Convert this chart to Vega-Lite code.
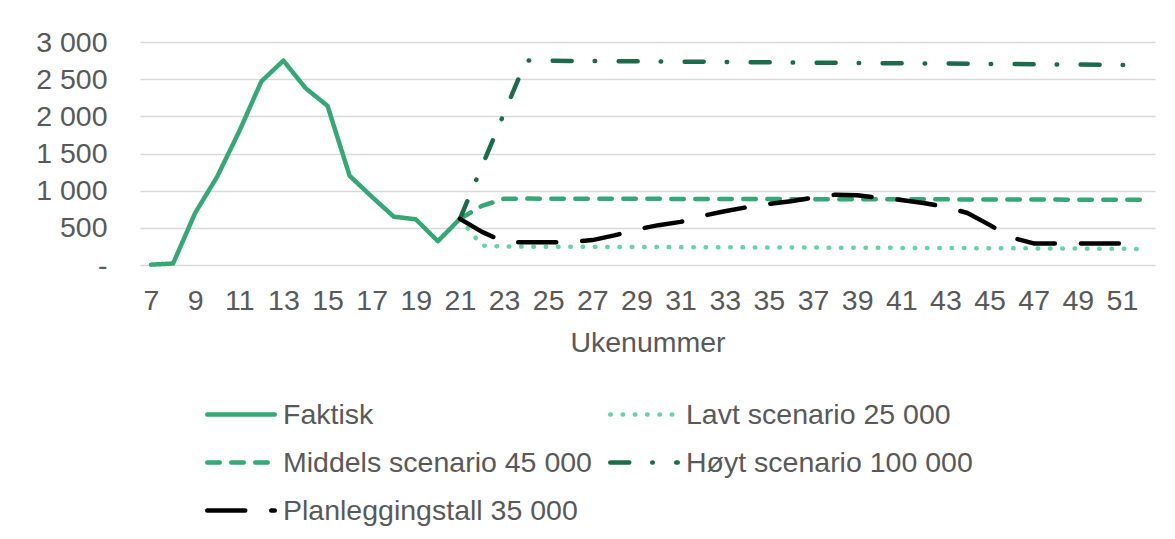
{
  "$schema": "https://vega.github.io/schema/vega-lite/v6.json",
  "autosize": {"type": "none"},
  "width": 1015,
  "height": 223,
  "padding": {"left": 140, "top": 42, "right": 20, "bottom": 274},
  "background": "white",
  "config": {
    "view": {"stroke": null},
    "font": "Liberation Sans",
    "axis": {"labelFont": "Liberation Sans", "titleFont": "Liberation Sans", "labelColor": "#595959", "titleColor": "#595959", "labelFontSize": 28.5, "titleFontSize": 28.5, "titleFontWeight": "normal"},
    "legend": {"labelFont": "Liberation Sans", "labelColor": "#595959", "labelFontSize": 28.5}
  },
  "data": {
    "values": [
      {"uke": 7, "serie": "Faktisk", "verdi": 5},
      {"uke": 8, "serie": "Faktisk", "verdi": 20},
      {"uke": 9, "serie": "Faktisk", "verdi": 700},
      {"uke": 10, "serie": "Faktisk", "verdi": 1190},
      {"uke": 11, "serie": "Faktisk", "verdi": 1800},
      {"uke": 12, "serie": "Faktisk", "verdi": 2470},
      {"uke": 13, "serie": "Faktisk", "verdi": 2750},
      {"uke": 14, "serie": "Faktisk", "verdi": 2380},
      {"uke": 15, "serie": "Faktisk", "verdi": 2140},
      {"uke": 16, "serie": "Faktisk", "verdi": 1200},
      {"uke": 17, "serie": "Faktisk", "verdi": 920},
      {"uke": 18, "serie": "Faktisk", "verdi": 650},
      {"uke": 19, "serie": "Faktisk", "verdi": 615},
      {"uke": 20, "serie": "Faktisk", "verdi": 320},
      {"uke": 21, "serie": "Faktisk", "verdi": 622},

      {"uke": 21, "serie": "Lavt scenario 25 000", "verdi": 622},
      {"uke": 22, "serie": "Lavt scenario 25 000", "verdi": 262},
      {"uke": 23, "serie": "Lavt scenario 25 000", "verdi": 248},
      {"uke": 24, "serie": "Lavt scenario 25 000", "verdi": 247},
      {"uke": 25, "serie": "Lavt scenario 25 000", "verdi": 246},
      {"uke": 26, "serie": "Lavt scenario 25 000", "verdi": 245},
      {"uke": 27, "serie": "Lavt scenario 25 000", "verdi": 244},
      {"uke": 28, "serie": "Lavt scenario 25 000", "verdi": 243},
      {"uke": 29, "serie": "Lavt scenario 25 000", "verdi": 242},
      {"uke": 30, "serie": "Lavt scenario 25 000", "verdi": 241},
      {"uke": 31, "serie": "Lavt scenario 25 000", "verdi": 240},
      {"uke": 32, "serie": "Lavt scenario 25 000", "verdi": 239},
      {"uke": 33, "serie": "Lavt scenario 25 000", "verdi": 238},
      {"uke": 34, "serie": "Lavt scenario 25 000", "verdi": 237},
      {"uke": 35, "serie": "Lavt scenario 25 000", "verdi": 236},
      {"uke": 36, "serie": "Lavt scenario 25 000", "verdi": 235},
      {"uke": 37, "serie": "Lavt scenario 25 000", "verdi": 234},
      {"uke": 38, "serie": "Lavt scenario 25 000", "verdi": 233},
      {"uke": 39, "serie": "Lavt scenario 25 000", "verdi": 232},
      {"uke": 40, "serie": "Lavt scenario 25 000", "verdi": 231},
      {"uke": 41, "serie": "Lavt scenario 25 000", "verdi": 230},
      {"uke": 42, "serie": "Lavt scenario 25 000", "verdi": 229},
      {"uke": 43, "serie": "Lavt scenario 25 000", "verdi": 228},
      {"uke": 44, "serie": "Lavt scenario 25 000", "verdi": 227},
      {"uke": 45, "serie": "Lavt scenario 25 000", "verdi": 226},
      {"uke": 46, "serie": "Lavt scenario 25 000", "verdi": 225},
      {"uke": 47, "serie": "Lavt scenario 25 000", "verdi": 224},
      {"uke": 48, "serie": "Lavt scenario 25 000", "verdi": 222},
      {"uke": 49, "serie": "Lavt scenario 25 000", "verdi": 221},
      {"uke": 50, "serie": "Lavt scenario 25 000", "verdi": 219},
      {"uke": 51, "serie": "Lavt scenario 25 000", "verdi": 218},
      {"uke": 52, "serie": "Lavt scenario 25 000", "verdi": 216},

      {"uke": 21, "serie": "Middels scenario 45 000", "verdi": 622},
      {"uke": 22, "serie": "Middels scenario 45 000", "verdi": 795},
      {"uke": 23, "serie": "Middels scenario 45 000", "verdi": 892},
      {"uke": 24, "serie": "Middels scenario 45 000", "verdi": 893},
      {"uke": 25, "serie": "Middels scenario 45 000", "verdi": 892},
      {"uke": 26, "serie": "Middels scenario 45 000", "verdi": 892},
      {"uke": 27, "serie": "Middels scenario 45 000", "verdi": 891},
      {"uke": 28, "serie": "Middels scenario 45 000", "verdi": 891},
      {"uke": 29, "serie": "Middels scenario 45 000", "verdi": 890},
      {"uke": 30, "serie": "Middels scenario 45 000", "verdi": 890},
      {"uke": 31, "serie": "Middels scenario 45 000", "verdi": 889},
      {"uke": 32, "serie": "Middels scenario 45 000", "verdi": 889},
      {"uke": 33, "serie": "Middels scenario 45 000", "verdi": 888},
      {"uke": 34, "serie": "Middels scenario 45 000", "verdi": 887},
      {"uke": 35, "serie": "Middels scenario 45 000", "verdi": 887},
      {"uke": 36, "serie": "Middels scenario 45 000", "verdi": 886},
      {"uke": 37, "serie": "Middels scenario 45 000", "verdi": 886},
      {"uke": 38, "serie": "Middels scenario 45 000", "verdi": 885},
      {"uke": 39, "serie": "Middels scenario 45 000", "verdi": 885},
      {"uke": 40, "serie": "Middels scenario 45 000", "verdi": 884},
      {"uke": 41, "serie": "Middels scenario 45 000", "verdi": 884},
      {"uke": 42, "serie": "Middels scenario 45 000", "verdi": 883},
      {"uke": 43, "serie": "Middels scenario 45 000", "verdi": 883},
      {"uke": 44, "serie": "Middels scenario 45 000", "verdi": 882},
      {"uke": 45, "serie": "Middels scenario 45 000", "verdi": 882},
      {"uke": 46, "serie": "Middels scenario 45 000", "verdi": 881},
      {"uke": 47, "serie": "Middels scenario 45 000", "verdi": 881},
      {"uke": 48, "serie": "Middels scenario 45 000", "verdi": 880},
      {"uke": 49, "serie": "Middels scenario 45 000", "verdi": 879},
      {"uke": 50, "serie": "Middels scenario 45 000", "verdi": 879},
      {"uke": 51, "serie": "Middels scenario 45 000", "verdi": 878},
      {"uke": 52, "serie": "Middels scenario 45 000", "verdi": 878},

      {"uke": 21, "serie": "Høyt scenario 100 000", "verdi": 622},
      {"uke": 22, "serie": "Høyt scenario 100 000", "verdi": 1330},
      {"uke": 23, "serie": "Høyt scenario 100 000", "verdi": 2040},
      {"uke": 24, "serie": "Høyt scenario 100 000", "verdi": 2750},
      {"uke": 25, "serie": "Høyt scenario 100 000", "verdi": 2748},
      {"uke": 26, "serie": "Høyt scenario 100 000", "verdi": 2746},
      {"uke": 27, "serie": "Høyt scenario 100 000", "verdi": 2744},
      {"uke": 28, "serie": "Høyt scenario 100 000", "verdi": 2742},
      {"uke": 29, "serie": "Høyt scenario 100 000", "verdi": 2740},
      {"uke": 30, "serie": "Høyt scenario 100 000", "verdi": 2737},
      {"uke": 31, "serie": "Høyt scenario 100 000", "verdi": 2735},
      {"uke": 32, "serie": "Høyt scenario 100 000", "verdi": 2733},
      {"uke": 33, "serie": "Høyt scenario 100 000", "verdi": 2731},
      {"uke": 34, "serie": "Høyt scenario 100 000", "verdi": 2729},
      {"uke": 35, "serie": "Høyt scenario 100 000", "verdi": 2727},
      {"uke": 36, "serie": "Høyt scenario 100 000", "verdi": 2725},
      {"uke": 37, "serie": "Høyt scenario 100 000", "verdi": 2722},
      {"uke": 38, "serie": "Høyt scenario 100 000", "verdi": 2720},
      {"uke": 39, "serie": "Høyt scenario 100 000", "verdi": 2718},
      {"uke": 40, "serie": "Høyt scenario 100 000", "verdi": 2716},
      {"uke": 41, "serie": "Høyt scenario 100 000", "verdi": 2714},
      {"uke": 42, "serie": "Høyt scenario 100 000", "verdi": 2712},
      {"uke": 43, "serie": "Høyt scenario 100 000", "verdi": 2710},
      {"uke": 44, "serie": "Høyt scenario 100 000", "verdi": 2707},
      {"uke": 45, "serie": "Høyt scenario 100 000", "verdi": 2705},
      {"uke": 46, "serie": "Høyt scenario 100 000", "verdi": 2703},
      {"uke": 47, "serie": "Høyt scenario 100 000", "verdi": 2701},
      {"uke": 48, "serie": "Høyt scenario 100 000", "verdi": 2699},
      {"uke": 49, "serie": "Høyt scenario 100 000", "verdi": 2697},
      {"uke": 50, "serie": "Høyt scenario 100 000", "verdi": 2694},
      {"uke": 51, "serie": "Høyt scenario 100 000", "verdi": 2692},
      {"uke": 52, "serie": "Høyt scenario 100 000", "verdi": 2690},

      {"uke": 21, "serie": "Planleggingstall 35 000", "verdi": 620},
      {"uke": 22, "serie": "Planleggingstall 35 000", "verdi": 446},
      {"uke": 23, "serie": "Planleggingstall 35 000", "verdi": 310},
      {"uke": 24, "serie": "Planleggingstall 35 000", "verdi": 306},
      {"uke": 25, "serie": "Planleggingstall 35 000", "verdi": 306},
      {"uke": 26, "serie": "Planleggingstall 35 000", "verdi": 310},
      {"uke": 27, "serie": "Planleggingstall 35 000", "verdi": 335},
      {"uke": 28, "serie": "Planleggingstall 35 000", "verdi": 398},
      {"uke": 29, "serie": "Planleggingstall 35 000", "verdi": 478},
      {"uke": 30, "serie": "Planleggingstall 35 000", "verdi": 536},
      {"uke": 31, "serie": "Planleggingstall 35 000", "verdi": 580},
      {"uke": 32, "serie": "Planleggingstall 35 000", "verdi": 661},
      {"uke": 33, "serie": "Planleggingstall 35 000", "verdi": 723},
      {"uke": 34, "serie": "Planleggingstall 35 000", "verdi": 777},
      {"uke": 35, "serie": "Planleggingstall 35 000", "verdi": 821},
      {"uke": 36, "serie": "Planleggingstall 35 000", "verdi": 857},
      {"uke": 37, "serie": "Planleggingstall 35 000", "verdi": 906},
      {"uke": 38, "serie": "Planleggingstall 35 000", "verdi": 946},
      {"uke": 39, "serie": "Planleggingstall 35 000", "verdi": 937},
      {"uke": 40, "serie": "Planleggingstall 35 000", "verdi": 902},
      {"uke": 41, "serie": "Planleggingstall 35 000", "verdi": 875},
      {"uke": 42, "serie": "Planleggingstall 35 000", "verdi": 835},
      {"uke": 43, "serie": "Planleggingstall 35 000", "verdi": 781},
      {"uke": 44, "serie": "Planleggingstall 35 000", "verdi": 700},
      {"uke": 45, "serie": "Planleggingstall 35 000", "verdi": 540},
      {"uke": 46, "serie": "Planleggingstall 35 000", "verdi": 370},
      {"uke": 47, "serie": "Planleggingstall 35 000", "verdi": 290},
      {"uke": 48, "serie": "Planleggingstall 35 000", "verdi": 290},
      {"uke": 49, "serie": "Planleggingstall 35 000", "verdi": 290},
      {"uke": 50, "serie": "Planleggingstall 35 000", "verdi": 290},
      {"uke": 51, "serie": "Planleggingstall 35 000", "verdi": 290},
      {"uke": 52, "serie": "Planleggingstall 35 000", "verdi": 290}
    ]
  },
  "mark": {"type": "line", "strokeWidth": 4.5, "strokeCap": "round", "strokeJoin": "round"},
  "encoding": {
    "x": {
      "field": "uke", "type": "quantitative",
      "scale": {"domain": [6.5, 52.5], "nice": false, "zero": false},
      "axis": {
        "title": "Ukenummer",
        "values": [7, 9, 11, 13, 15, 17, 19, 21, 23, 25, 27, 29, 31, 33, 35, 37, 39, 41, 43, 45, 47, 49, 51],
        "grid": false, "domain": false, "ticks": false, "tickSize": 0,
        "labelPadding": 21, "titlePadding": 14, "labelFlush": false, "labelOverlap": false
      }
    },
    "y": {
      "field": "verdi", "type": "quantitative",
      "scale": {"domain": [0, 3000], "nice": false},
      "axis": {
        "title": null,
        "values": [0, 500, 1000, 1500, 2000, 2500, 3000],
        "labelExpr": "datum.value == 0 ? '-' : replace(format(datum.value, ','), ',', ' ')",
        "grid": true, "gridColor": "#D9D9D9", "gridWidth": 1.3,
        "domain": false, "ticks": false, "tickSize": 0,
        "labelPadding": 33, "labelFlush": false, "labelOverlap": false,
        "encode": {"labels": {"update": {"dx": {"signal": "datum.value === 0 ? -16 : 0"}}}}
      }
    },
    "color": {
      "field": "serie", "type": "nominal",
      "scale": {
        "domain": ["Faktisk", "Lavt scenario 25 000", "Middels scenario 45 000", "Høyt scenario 100 000", "Planleggingstall 35 000"],
        "range": ["#35A878", "#66D4A8", "#35A878", "#1E6B4B", "#000000"]
      },
      "legend": {
        "title": null,
        "orient": "none",
        "direction": "horizontal",
        "legendX": 65,
        "legendY": 355,
        "columns": 2,
        "columnPadding": 9,
        "rowPadding": 16,
        "padding": 0,
        "symbolType": "M-2.25,0H2.25",
        "symbolSize": 900,
        "symbolOffset": 18.5,
        "symbolStrokeWidth": 4.5,
        "labelOffset": 24.5,
        "labelLimit": 400,
        "encode": {"symbols": {"update": {"strokeCap": {"value": "round"}}}}
      }
    },
    "strokeDash": {
      "field": "serie", "type": "nominal",
      "scale": {
        "domain": ["Faktisk", "Lavt scenario 25 000", "Middels scenario 45 000", "Høyt scenario 100 000", "Planleggingstall 35 000"],
        "range": [[1, 0], [0.5, 11.8], [12.5, 11.5], [19, 23, 0.5, 23.5], [38, 26]]
      },
      "legend": null
    }
  }
}
